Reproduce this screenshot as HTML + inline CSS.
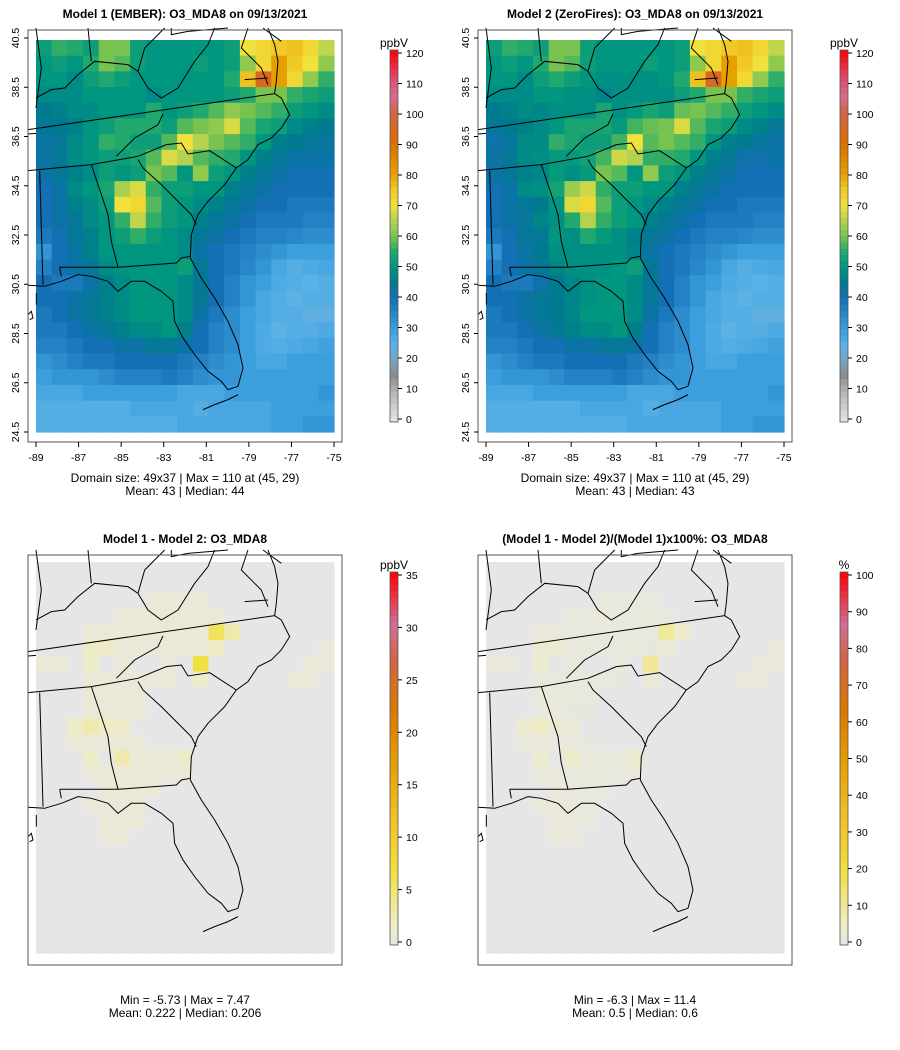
<!DOCTYPE html>
<html><head><meta charset="utf-8">
<style>
body{margin:0;background:#fff;width:900px;height:1045px;overflow:hidden;font-family:"Liberation Sans",sans-serif}
svg text{font-family:"Liberation Sans",sans-serif;fill:#000}
</style></head>
<body>
<svg id="chart" width="900" height="1045" xmlns="http://www.w3.org/2000/svg"></svg>
<script>
// Model 1 O3_MDA8 (ppbV), coarse grid rows north->south, cols west->east
const model1Rows = [
[52,56,55,52,60,60,52,50,50,50,50,50,52,70,72,75,76,72,66],
[50,52,50,55,60,58,52,50,50,50,52,50,52,62,72,80,75,70,62],
[50,50,48,52,55,52,50,50,50,50,50,50,55,76,95,80,72,62,56],
[48,48,48,50,50,50,50,48,50,50,50,50,52,55,60,60,56,54,52],
[45,46,48,48,50,50,50,55,50,52,55,58,62,60,58,56,52,50,48],
[44,45,46,50,52,55,55,55,52,58,60,62,68,58,54,52,48,46,45],
[42,44,48,50,56,55,52,52,58,70,65,60,58,56,50,46,45,44,43],
[42,44,48,50,52,52,54,58,68,65,58,56,55,50,46,44,42,42,42],
[42,44,46,48,52,50,52,60,58,50,62,52,50,46,44,42,40,40,40],
[40,42,48,50,54,64,68,56,52,52,50,50,46,44,42,40,40,40,40],
[40,42,46,48,52,70,72,58,52,50,48,46,44,42,40,40,38,38,38],
[40,42,44,48,50,56,66,56,52,50,46,44,42,40,38,38,38,36,36],
[38,40,44,46,50,52,56,52,50,48,44,42,40,38,36,36,35,34,34],
[32,40,42,46,50,50,50,50,50,48,42,40,38,36,34,32,30,30,30],
[36,40,42,44,48,50,50,50,50,52,44,40,38,35,32,28,26,27,28],
[40,38,38,42,46,48,50,50,50,48,44,40,36,32,30,27,26,25,26],
[40,40,42,44,46,48,50,50,50,48,44,40,36,32,28,26,25,26,26],
[38,40,42,44,46,48,50,50,50,48,42,38,34,30,28,26,26,24,24],
[38,38,40,42,44,46,48,48,50,46,40,36,34,30,27,25,26,26,27],
[36,36,38,40,40,42,42,44,44,42,40,36,34,30,27,26,27,28,29],
[32,34,36,38,38,40,40,40,40,38,36,34,32,30,28,28,30,30,30],
[30,32,32,32,34,36,36,36,38,36,34,32,32,30,30,30,30,30,30],
[28,28,28,30,30,30,30,30,30,28,28,28,30,30,30,30,30,30,32],
[26,26,26,26,26,26,28,28,28,28,26,28,28,28,28,30,30,30,30],
[26,26,26,26,26,26,26,26,26,28,28,28,28,28,28,30,30,32,32]
];
// Model1 - Model2 difference (ppbV)
const diffRows = [
[0,0,0,0,0,0,0,0,0,0,0,0,0,0,0,0,0,0,0],
[0,0,0,0,0,0,0,0,0,0,0,0,0,0,0,0,0,0,0],
[0,0,0,0,0,0,0,1,1,1,1,0,0,0,0,0,0,0,0],
[0,0,0,0,0,1,1,1,1,1,1,1,0,0,0,0,0,0,0],
[0,0,0,1,1,1,1,1,1,1,1,6,3,0,0,0,0,0,0],
[0,0,0,2,2,1,1,1,1,1,1,2,0,0,0,0,0,0,1],
[1,1,0,2,0,1,0,0,1,0,7,0,0,0,0,0,0,1,1],
[0,0,0,1,1,1,1,1,1,0,2,0,0,0,0,0,1,1,0],
[0,0,0,1,1,1,1,0,0,0,0,0,0,0,0,0,0,0,0],
[0,0,0,1,1,1,1,0,0,0,0,0,0,0,0,0,0,0,0],
[0,0,2,3,2,2,0,0,0,0,0,0,0,0,0,0,0,0,0],
[0,0,1,1,1,1,1,0,0,0,0,0,0,0,0,0,0,0,0],
[0,0,0,2,0,3,1,1,1,2,0,0,0,0,0,0,0,0,0],
[0,0,0,1,1,1,1,1,1,1,0,0,0,0,0,0,0,0,0],
[0,0,0,0,1,1,1,1,0,0,0,0,0,0,0,0,0,0,0],
[0,0,0,1,1,1,1,0,0,0,0,0,0,0,0,0,0,0,0],
[0,0,0,0,1,1,1,0,0,0,0,0,0,0,0,0,0,0,0],
[0,0,0,0,1,1,0,0,0,0,0,0,0,0,0,0,0,0,0],
[0,0,0,0,0,0,0,0,0,0,0,0,0,0,0,0,0,0,0],
[0,0,0,0,0,0,0,0,0,0,0,0,0,0,0,0,0,0,0],
[0,0,0,0,0,0,0,0,0,0,0,0,0,0,0,0,0,0,0],
[0,0,0,0,0,0,0,0,0,0,0,0,0,0,0,0,0,0,0],
[0,0,0,0,0,0,0,0,0,0,0,0,0,0,0,0,0,0,0],
[0,0,0,0,0,0,0,0,0,0,0,0,0,0,0,0,0,0,0],
[0,0,0,0,0,0,0,0,0,0,0,0,0,0,0,0,0,0,0]
];
const latTicks = ["40.5","38.5","36.5","34.5","32.5","30.5","28.5","26.5","24.5"];
const lonTicks = ["-89","-87","-85","-83","-81","-79","-77","-75"];
const concTicks = [0,10,20,30,40,50,60,70,80,90,100,110,120];
const diffTicks = [0,5,10,15,20,25,30,35];
const pctTicks = [0,10,20,30,40,50,60,70,80,90,100];

const concStops=[[0,"#e6e6e6"],[10,"#b4b4b4"],[15,"#8c8c8c"],[20,"#7aa2c2"],[25,"#5ab2e6"],[30,"#3c9edc"],[40,"#1470b4"],[45,"#007a8e"],[50,"#009680"],[55,"#20a86e"],[60,"#78c350"],[65,"#b4d250"],[70,"#f0e13c"],[75,"#f0c828"],[80,"#e6a000"],[90,"#dc6e00"],[100,"#d26446"],[105,"#d26e8c"],[110,"#dc5078"],[120,"#ff0000"]];
const diffStops=[[0,"#e6e6e6"],[2,"#eeebc8"],[4,"#f0e890"],[7,"#f0e040"],[12,"#f0c028"],[17,"#e6a000"],[22,"#dc7800"],[27,"#d26446"],[30,"#d07098"],[35,"#ff0000"]];

const NS="http://www.w3.org/2000/svg";
const svg=document.getElementById("chart");
function el(tag,attrs,parent){const e=document.createElementNS(NS,tag);for(const k in attrs)e.setAttribute(k,attrs[k]);(parent||svg).appendChild(e);return e;}
function hex(c){return [1,3,5].map(i=>parseInt(c.substr(i,2),16));}
function colorOf(v,stops,maxv){v=Math.max(0,Math.min(maxv,v));for(let i=1;i<stops.length;i++){if(v<=stops[i][0]){const a=stops[i-1],b=stops[i];const t=(v-a[0])/(b[0]-a[0]||1);const ca=hex(a[1]),cb=hex(b[1]);return "rgb("+ca.map((x,j)=>Math.round(x+(cb[j]-x)*t)).join(",")+")";}}return stops[stops.length-1][1];}

const model2Rows=model1Rows.map((r,i)=>r.map((v,j)=>v-diffRows[i][j]));
const pctRows=model1Rows.map((r,i)=>r.map((v,j)=>diffRows[i][j]/v*100));

const borderPaths=[
"M0,305 L740,197","M0,318 L24,316",
"M0,428 L190,410 L330,385 L415,350 L460,345 L480,378 L545,368 L625,420",
"M740,197 L760,210 L785,260 L760,300 L730,330 L690,350 L660,395 L625,420 L590,470 L540,520 L510,560 L490,620 L487,690 L520,750 L560,810 L600,880 L630,950 L645,1020 L630,1075 L600,1085 L580,1060 L540,1030 L500,980 L465,930 L440,880 L435,820 L400,790 L350,760 L310,760 L270,790 L240,760 L190,745 L150,740 L100,760 L50,775 L0,772",
"M190,410 L240,560 L250,640 L270,718","M270,718 L445,705 L460,690 L487,685",
"M330,395 L345,420 L400,470 L440,510 L490,560 L505,590","M35,428 L45,770","M95,718 L270,718 M95,718 L100,745",
"M180,0 L190,100","M24,210 L70,185 L110,180 L150,140 L200,100 L300,110 L330,130 L360,180 L400,210 L450,180 L500,100 L540,50 L560,0",
"M330,130 L350,60 L410,0","M405,258 L390,290 L320,330 L265,385",
"M660,0 L640,60 L680,100 L700,120 L720,170","M720,0 L740,50 L750,100 L745,160 L740,197","M650,155 L720,150",
"M525,1145 L560,1130 L600,1115 L630,1100","M705,0 L760,40","M430,0 L430,20 L480,10 L600,0","M24,0 L40,120 L24,240",
"M0,860 L10,850 L15,870 L5,875","M25,795 L25,830"
];

function panel(px,py,rows,stops,maxv,key,title,withAxes,cb,cbTicks,cbUnit,stat1,stat2){
  const g=el("g",{});
  
  
  const t=el("text",{x:px+157,y:py-12,"text-anchor":"middle","font-size":"12","font-weight":"bold"},g);t.textContent=title;
  
  
  const bh=withAxes?412:410;
  const mapTop=withAxes?py+10:py+7;
  const mapH=withAxes?392:391;
  const mx=px+8,mw=298;
  const nr=rows.length,nc=rows[0].length;
  const cw=mw/nc,ch=mapH/nr;
  const xCell=j=>mx+j*cw, yCell=i=>mapTop+i*ch;
  const hm=el("g",{},g);
  
  
  rows.forEach((r,i)=>r.forEach((v,j)=>{
    const c=el("rect",{x:xCell(j).toFixed(2),y:yCell(i).toFixed(2),width:(cw+0.6).toFixed(2),height:(ch+0.6).toFixed(2),fill:colorOf(v,stops,maxv)},hm);
    
    
  }));
  const bl=el("g",{transform:"translate("+px+","+(mapTop-12)+") scale(0.3333)",fill:"none",stroke:"#000","stroke-width":"3"},g);
  
  
  borderPaths.forEach(d=>el("path",{d:d},bl));
  // white mask outside panel box
  const box=el("rect",{x:px,y:py,width:314,height:bh,fill:"none",stroke:"#555","stroke-width":"1"},g);
  
  
  if(withAxes){
    const ax=el("g",{},g);
    
    
    latTicks.forEach((lab,i)=>{const y=mapTop-2+i*49.25;el("line",{x1:px-4,x2:px,y1:y,y2:y,stroke:"#000"},ax);
      const tx=el("text",{x:px-9,y:y,"font-size":"10.5","text-anchor":"middle",transform:"rotate(-90 "+(px-9)+" "+y+")"},ax);tx.textContent=lab;});
    lonTicks.forEach((lab,i)=>{const x=mx+i*mw/7;el("line",{x1:x,x2:x,y1:py+bh,y2:py+bh+5,stroke:"#000"},ax);
      const tx=el("text",{x:x,y:py+bh+19,"font-size":"10.5","text-anchor":"middle"},ax);tx.textContent=lab;});
  }
  // colorbar
  const cbx=px+362,top=cb[0],bot=cb[1],cmax=cbTicks[cbTicks.length-1];
  const cg=el("g",{},g);
  
  
  const n=60;const y0=bot+3,y1=top-3;
  for(let k=0;k<n;k++){const v=(k+0.5)/n*cmax;const yy=y0-(k+1)*(y0-y1)/n;
    el("rect",{x:cbx,y:yy.toFixed(2),width:8,height:((y0-y1)/n+0.5).toFixed(2),fill:colorOf(v,stops,maxv)},cg);}
  el("rect",{x:cbx,y:y1,width:8,height:y0-y1,fill:"none",stroke:"#555","stroke-width":"0.8"},cg);
  const u=el("text",{x:cbx+4,y:y1-3,"font-size":"12","text-anchor":"middle"},cg);u.textContent=cbUnit;
  cbTicks.forEach(v=>{const yy=bot-(bot-top)*v/cmax;el("line",{x1:cbx+8,x2:cbx+12,y1:yy,y2:yy,stroke:"#000"},cg);
    const tx=el("text",{x:cbx+16,y:yy+4,"font-size":"10.5"},cg);tx.textContent=v;});
  const s1=el("text",{x:px+157,y:withAxes?py+452:py+449,"font-size":"12","text-anchor":"middle"},g);s1.textContent=stat1;
  
  
  const s2=el("text",{x:px+157,y:withAxes?py+465:py+462,"font-size":"12","text-anchor":"middle"},g);s2.textContent=stat2;
  
  
}
panel(28,30,model1Rows,concStops,120,"model1","Model 1 (EMBER): O3_MDA8 on 09/13/2021",true,[53,419],concTicks,"ppbV","Domain size: 49x37 | Max = 110 at (45, 29)","Mean: 43 |  Median: 44");
panel(478,30,model2Rows,concStops,120,"model2","Model 2 (ZeroFires): O3_MDA8 on 09/13/2021",true,[53,419],concTicks,"ppbV","Domain size: 49x37 | Max = 110 at (45, 29)","Mean: 43 |  Median: 43");
panel(28,555,diffRows,diffStops,35,"difference","Model 1 - Model 2: O3_MDA8",false,[575,942],diffTicks,"ppbV","Min = -5.73 | Max = 7.47","Mean: 0.222 |  Median: 0.206");
const pctStops=diffStops.map(s=>[s[0]*100/35,s[1]]);
panel(478,555,pctRows,pctStops,100,"percent-difference","(Model 1 - Model 2)/(Model 1)x100%: O3_MDA8",false,[575,942],pctTicks,"%","Min = -6.3 | Max = 11.4","Mean: 0.5 |  Median: 0.6");
</script>
</body></html>
